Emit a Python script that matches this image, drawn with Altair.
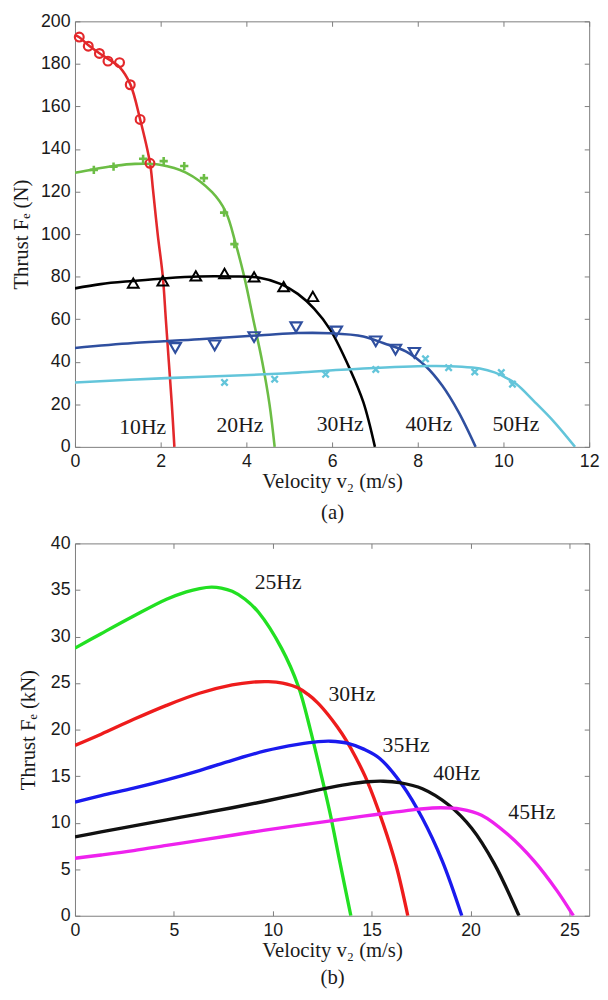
import altair as alt
import pandas as pd

SERIF = "Liberation Serif"
SANS = "Liberation Sans"
GREY = "#7d7d7d"
TXT = "#1a1a1a"

# ---------------- Panel (a): thrust in N ----------------
a_series = ["10Hz", "20Hz", "30Hz", "40Hz", "50Hz"]
a_colors = ["#e3282b", "#6cbd45", "#000000", "#2f4f9f", "#63c5da"]

a10_v = [0, 0.1, 0.3, 0.57, 0.8, 1.04, 1.29, 1.52, 1.75, 1.82, 1.93, 2.05, 2.12, 2.19, 2.26, 2.32]
a10_F = [193.5, 192.5, 189, 185, 182, 178.5, 170.5, 154, 133.5, 121, 100, 80, 60, 40, 20, 0]
a20_v = [0, 0.44, 0.9, 1.4, 1.98, 2.59, 3.2, 3.52, 3.75, 3.95, 4.16, 4.37, 4.54, 4.66]
a20_F = [128.8, 130.5, 132, 133, 132.6, 128.9, 119.7, 110.4, 95.5, 80, 60, 40, 20, 0]
a30_v = [0, 0.6, 1.36, 2.13, 2.9, 3.66, 4.28, 4.81, 5.2, 5.58, 5.96, 6.42, 6.73, 7.0]
a30_F = [74.5, 76.5, 78, 79.3, 80.1, 80.1, 79.6, 76.5, 71.9, 65, 55, 36.4, 21, 0]
a40_v = [0, 1.36, 2.9, 4.43, 5.2, 5.96, 6.73, 7.19, 7.72, 8.18, 8.57, 8.95, 9.35]
a40_F = [46.5, 48.8, 50.6, 52.6, 53.5, 53.4, 51.9, 48.8, 44.9, 38, 28.8, 16.4, 0]
a50_v = [0, 2.13, 4.43, 5.2, 6.73, 8.26, 9.03, 9.45, 9.79, 10.05, 10.3, 10.71, 11.17, 11.67]
a50_F = [30.3, 32.3, 34.1, 34.9, 36.8, 38, 37.7, 36.8, 35.0, 32.6, 29.5, 21.5, 12, 0]

# experimental points
m10_v = [0.1, 0.31, 0.57, 0.77, 1.04, 1.29, 1.52, 1.75]
m10_F = [192.6, 188.3, 184.9, 181.3, 180.6, 170.2, 153.9, 133.3]
m20_v = [0.44, 0.9, 1.59, 2.07, 2.55, 3.01, 3.48, 3.72]
m20_F = [130.2, 131.7, 135.4, 134.3, 132, 126.3, 110.1, 95.3]
m30_v = [1.36, 2.05, 2.82, 3.49, 4.18, 4.87, 5.55]
m30_F = [77, 78, 80.4, 81.5, 79.9, 75.3, 70.7]
m40_v = [2.34, 3.26, 4.18, 5.16, 6.1, 7.02, 7.48, 7.92]
m40_F = [46.5, 47.7, 51.6, 56.2, 54.2, 49.6, 45.7, 44.2]
m50_v = [3.49, 4.66, 5.85, 7.02, 8.18, 8.72, 9.33, 9.95, 10.21]
m50_F = [30.3, 31.8, 34.1, 36.4, 41.4, 37.2, 35.2, 34.9, 29.5]

a_lab_text = ["10Hz", "20Hz", "30Hz", "40Hz", "50Hz"]
a_lab_v = [1.58, 3.85, 6.19, 8.26, 10.29]
a_lab_F = [9.5, 10.3, 10.5, 10.5, 10.5]

a_xticks = [0, 2, 4, 6, 8, 10, 12]
a_yticks = [0, 20, 40, 60, 80, 100, 120, 140, 160, 180, 200]

# ---------------- Panel (b): thrust in kN ----------------
b_series = ["25Hz", "30Hz", "35Hz", "40Hz", "45Hz"]
b_colors = ["#22e022", "#ee1c1c", "#1a1aee", "#111111", "#ee22ee"]

b25_v = [0, 1.32, 2.97, 4.63, 5.63, 6.3, 6.9, 7.4, 7.95, 8.6, 9.28, 10.44, 11.3, 11.9, 12.4, 12.9, 13.4, 13.95]
b25_F = [28.75, 30.3, 32.2, 34.0, 34.8, 35.15, 35.3, 35.2, 34.85, 34.0, 32.6, 28.75, 24.6, 20.0, 15.6, 11.0, 5.7, 0]
b30_v = [0, 1.32, 2.97, 4.63, 6.29, 7.95, 9.0, 9.78, 10.5, 11.27, 11.77, 12.26, 12.8, 13.26, 13.7, 14.2, 14.75, 15.58, 16.24, 16.83]
b30_F = [18.3, 19.5, 21.1, 22.6, 23.9, 24.8, 25.1, 25.15, 25.0, 24.5, 23.8, 22.9, 21.6, 20.3, 18.9, 17.0, 14.6, 9.9, 5.4, 0]
b35_v = [0, 1.32, 2.97, 4.63, 6.29, 7.95, 9.61, 11.27, 12.3, 12.93, 13.76, 14.6, 15.41, 16.57, 17.56, 18.57, 19.56]
b35_F = [12.2, 12.9, 13.7, 14.6, 15.6, 16.7, 17.7, 18.4, 18.7, 18.75, 18.55, 17.9, 16.9, 14.0, 10.5, 5.9, 0]
b40_v = [0, 1.32, 2.97, 4.63, 6.29, 7.95, 9.61, 11.27, 12.93, 14.0, 14.8, 15.6, 16.4, 17.57, 18.9, 20.06, 21.2, 22.45]
b40_F = [8.47, 9.0, 9.65, 10.3, 10.95, 11.6, 12.3, 13.05, 13.8, 14.2, 14.4, 14.45, 14.3, 13.65, 11.9, 9.4, 5.6, 0]
b45_v = [0, 1.32, 2.97, 4.63, 6.29, 7.95, 9.61, 11.27, 12.93, 14.59, 16.24, 17.4, 18.5, 19.5, 20.56, 21.88, 23.21, 24.37, 25.2]
b45_F = [6.18, 6.53, 7.0, 7.55, 8.1, 8.65, 9.2, 9.7, 10.2, 10.7, 11.15, 11.45, 11.6, 11.45, 10.8, 8.75, 5.9, 2.7, 0]

b_lab_text = ["25Hz", "30Hz", "35Hz", "40Hz", "45Hz"]
b_lab_v = [10.27, 14.0, 16.74, 19.3, 23.1]
b_lab_F = [35.8, 23.8, 18.35, 15.3, 11.1]

b_xticks = [0, 5, 10, 15, 20, 25]
b_yticks = [0, 5, 10, 15, 20, 25, 30, 35, 40]


def long_df(names, vs, Fs):
    frames = []
    for n, v, F in zip(names, vs, Fs):
        frames.append(pd.DataFrame({"v": v, "F": F, "s": n}))
    return pd.concat(frames, ignore_index=True)


a_lines = long_df(a_series, [a10_v, a20_v, a30_v, a40_v, a50_v], [a10_F, a20_F, a30_F, a40_F, a50_F])
b_lines = long_df(b_series, [b25_v, b30_v, b35_v, b40_v, b45_v], [b25_F, b30_F, b35_F, b40_F, b45_F])
a_labels = pd.DataFrame({"v": a_lab_v, "F": a_lab_F, "t": a_lab_text})
b_labels = pd.DataFrame({"v": b_lab_v, "F": b_lab_F, "t": b_lab_text})

PLUS = "M-1,0L1,0M0,-1L0,1"
XMARK = "M-1,-1L1,1M-1,1L1,-1"
a_markers = [
    (m10_v, m10_F, "circle", a_colors[0], 80, 2.2),
    (m20_v, m20_F, PLUS, a_colors[1], 70, 2.6),
    (m30_v, m30_F, "triangle-up", a_colors[2], 120, 2),
    (m40_v, m40_F, "triangle-down", a_colors[3], 130, 2.2),
    (m50_v, m50_F, XMARK, a_colors[4], 42, 2.4),
]


def tick_axis(orient, vals):
    return alt.Axis(orient=orient, values=vals, labels=False, domain=False, grid=False,
                    ticks=True, tickSize=5, tickColor=GREY, tickWidth=1, offset=-5, title=None)


def panel(lines_df, series, colors, line_w, labels_df, markers, xdom, xvals, ydom, yvals,
          xtitle, ytitle, title_x, title_y, line_h, w, h):
    xs = alt.Scale(domain=xdom, nice=False, zero=False)
    ys = alt.Scale(domain=ydom, nice=False, zero=False)
    ax_x = alt.Axis(values=xvals, ticks=False, domain=False, grid=False, labelPadding=6,
                    labelFont=SANS, labelFontSize=18, labelColor=TXT, labelFlush=False,
                    labelOverlap=False, title=xtitle, titleFont=SERIF, titleFontSize=21,
                    titleFontWeight="normal", titleColor=TXT, titleY=title_y,
                    titleBaseline="top", titleLineHeight=line_h)
    ax_y = alt.Axis(values=yvals, ticks=False, domain=False, grid=False, labelPadding=5,
                    labelFont=SANS, labelFontSize=18, labelColor=TXT, labelFlush=False,
                    labelOverlap=False, title=ytitle, titleFont=SERIF, titleFontSize=21,
                    titleFontWeight="normal", titleColor=TXT, titleX=title_x,
                    titleBaseline="middle", titleAngle=270)
    layers = [
        alt.Chart(lines_df).mark_line(strokeWidth=line_w, interpolate="catmull-rom", clip=True).encode(
            x=alt.X("v:Q", scale=xs, axis=ax_x),
            y=alt.Y("F:Q", scale=ys, axis=ax_y),
            color=alt.Color("s:N", scale=alt.Scale(domain=series, range=colors), legend=None),
        )
    ]
    for mv, mF, shape, col, size, sw in markers:
        mdf = pd.DataFrame({"v": mv, "F": mF})
        layers.append(
            alt.Chart(mdf).mark_point(shape=shape, filled=False, color=col, size=size,
                                      strokeWidth=sw, opacity=1).encode(
                x=alt.X("v:Q", scale=xs, axis=None),
                y=alt.Y("F:Q", scale=ys, axis=None),
            )
        )
    layers.append(
        alt.Chart(labels_df).mark_text(font=SERIF, fontSize=22, color=TXT, align="center",
                                       baseline="middle").encode(
            x=alt.X("v:Q", scale=xs, axis=tick_axis("bottom", xvals)),
            y=alt.Y("F:Q", scale=ys, axis=tick_axis("left", yvals)),
            text="t:N",
        )
    )
    layers.append(
        alt.Chart(labels_df).mark_point(opacity=0).encode(
            x=alt.X("v:Q", scale=xs, axis=tick_axis("top", xvals)),
            y=alt.Y("F:Q", scale=ys, axis=tick_axis("right", yvals)),
        )
    )
    return alt.layer(*layers).resolve_axis(x="independent", y="independent").properties(
        width=w, height=h)


pa = panel(a_lines, a_series, a_colors, 2.6, a_labels, a_markers, [0, 12], a_xticks,
           [0, 200], a_yticks, ["Velocity v\u2082 (m/s)", "(a)"], "Thrust F\u2091 (N)",
           -54, 24.5, 31, 522, 432)
pb = panel(b_lines, b_series, b_colors, 3.4, b_labels, [], [0, 26], b_xticks,
           [0, 40], b_yticks, ["Velocity v\u2082 (m/s)", "(b)"], "Thrust F\u2091 (kN)",
           -47, 24.2, 28, 522, 378)

chart = alt.vconcat(pa, pb, spacing=98, bounds="flush").resolve_scale(
    color="independent", x="independent", y="independent"
).properties(
    padding={"left": 2, "top": -4, "right": 0, "bottom": 5}
).configure_view(stroke=GREY, strokeWidth=1).configure_axis(grid=False)

chart.save("out.html", embed_options={"renderer": "svg", "actions": False})
